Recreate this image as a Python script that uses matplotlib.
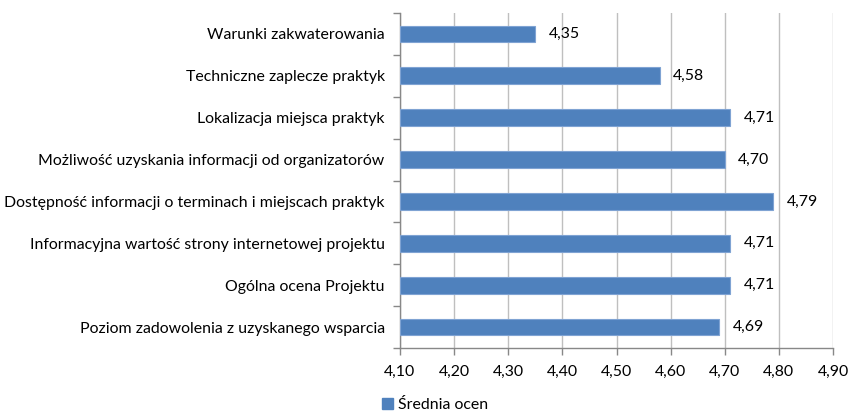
import matplotlib
matplotlib.use("Agg")
import matplotlib.pyplot as plt
from matplotlib.patches import Patch

categories = [
    "Warunki zakwaterowania",
    "Techniczne zaplecze praktyk",
    "Lokalizacja miejsca praktyk",
    "Możliwość uzyskania informacji od organizatorów",
    "Dostępność informacji o terminach i miejscach praktyk",
    "Informacyjna wartość strony internetowej projektu",
    "Ogólna ocena Projektu",
    "Poziom zadowolenia z uzyskanego wsparcia",
]
values = [4.35, 4.58, 4.71, 4.70, 4.79, 4.71, 4.71, 4.69]
xticks = [4.10, 4.20, 4.30, 4.40, 4.50, 4.60, 4.70, 4.80, 4.90]
series_name = "Średnia ocen"

plt.rcParams['font.family'] = ['Lato', 'DejaVu Sans']
fs = 11.4

fig = plt.figure(figsize=(8.5, 4.13), dpi=100)
ax = fig.add_axes([400/850, 1-348/413, 433/850, 335/413])

n = len(categories)
ypos = list(range(n))
bar_color = "#4F81BD"
ax.barh(ypos, [v - 4.10 for v in values], left=4.10, height=0.4,
        color=bar_color, edgecolor="#7FA3D3", linewidth=0.8, zorder=3)
for y, v in zip(ypos, values):
    ax.text(v + 0.025, y, f"{v:.2f}".replace(".", ","), va="center", ha="left",
            fontsize=fs, color="black")

ax.set_xlim(4.10, 4.90)
ax.set_ylim(n - 0.5, -0.5)
ax.set_xticks(xticks)
ax.set_xticklabels([f"{t:.2f}".replace(".", ",") for t in xticks], fontsize=fs)
ax.set_yticks(ypos)
ax.set_yticklabels(categories, fontsize=fs)
ax.tick_params(axis='y', length=0, pad=11)
ax.set_yticks([i - 0.5 for i in range(n + 1)], minor=True)
ax.tick_params(axis='y', which='minor', length=5, color="#888888", width=1)
ax.tick_params(axis='x', length=5, color="#888888", width=1, pad=7)

ax.grid(axis='x', color="#BFBFBF", linewidth=1, zorder=0)
for s in ["top", "right"]:
    ax.spines[s].set_visible(False)
for s in ["left", "bottom"]:
    ax.spines[s].set_color("#888888")
    ax.spines[s].set_linewidth(1)

fig.legend(handles=[Patch(facecolor=bar_color, edgecolor=bar_color, label=series_name)],
           loc="center", bbox_to_anchor=(435/850, 1-405/413), frameon=False,
           fontsize=fs, handlelength=0.7, handleheight=0.7, handletextpad=0.3)

fig.savefig("out.png", dpi=100)
